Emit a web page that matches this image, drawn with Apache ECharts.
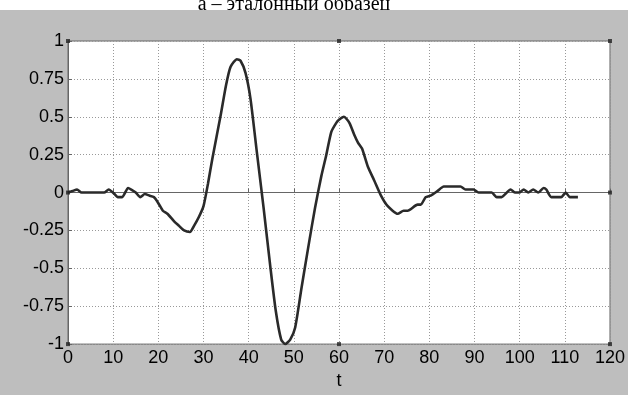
<!DOCTYPE html>
<html>
<head>
<meta charset="utf-8">
<script src="https://cdn.jsdelivr.net/npm/echarts@6/dist/echarts.min.js"></script>
<style>
  html, body { margin: 0; padding: 0; background: #fff; }
  #chart { width: 628px; height: 395px; }
</style>
</head>
<body>
<div id="chart"></div>
<script>
// signal: t and amplitude
var tValues = [0, 1, 2, 3, 8, 9, 10.3, 11, 12, 13.3, 14, 15, 16, 17, 18, 19, 20, 21, 22, 23.5,
    24.6, 25.7, 27, 27.9, 29, 30, 31, 32, 33.8, 35, 36, 37.4, 38.2, 39.3, 40.4, 41.8, 43.3, 44.8,
    46, 47.2, 48.1, 49.2, 50.3, 51.7, 53.2, 54.7, 56.1, 57.2, 58.3, 59.4, 60, 61.1, 62.3, 63.4,
    64.2, 65.1, 66.4, 67.8, 69.3, 70.8, 73, 74.3, 75.2, 77.4, 78.1, 79.2, 80.3, 81.8, 83.2, 86.9,
    88, 89.8, 90.9, 93.8, 94.9, 96, 98, 99, 99.9, 100.9, 101.9, 103, 104.1, 105.3, 105.9, 107,
    109.2, 110.2, 111.1, 112.9];
var signal = [0, 0.01, 0.02, 0, 0, 0.02, -0.01, -0.03, -0.03, 0.03, 0.02, 0, -0.03, -0.01, -0.02, -0.03, -0.07, -0.12, -0.14, -0.19,
    -0.22, -0.25, -0.26, -0.22, -0.16, -0.09, 0.06, 0.23, 0.51, 0.71, 0.83, 0.88, 0.87, 0.79, 0.62, 0.27, -0.1, -0.49,
    -0.78, -0.97, -1.0, -0.97, -0.89, -0.63, -0.36, -0.1, 0.11, 0.25, 0.4, 0.46, 0.48, 0.5, 0.46, 0.38,
    0.33, 0.29, 0.17, 0.08, -0.02, -0.09, -0.14, -0.12, -0.12, -0.08, -0.08, -0.03, -0.02, 0.01, 0.04, 0.04,
    0.02, 0.02, 0, 0, -0.03, -0.03, 0.02, 0, 0, 0.02, 0, 0.02, 0, 0.03, 0.02, -0.03,
    -0.03, 0, -0.03, -0.03];

// selection handles of the axes box
var handleX = [0, 60, 120, 0, 120, 0, 60, 120];
var handleY = [1, 1, 1, 0, 0, -1, -1, -1];

var titleText = 'а – эталонный образец';
var xName = 't';

var sans = 'Arial, "Liberation Sans", sans-serif';

var lineData = tValues.map(function (t, i) { return [t, signal[i]]; });
var handleData = handleX.map(function (x, i) { return [x, handleY[i]]; });

var chart = echarts.init(document.getElementById('chart'));

var option = {
    backgroundColor: '#bebebe',
    animation: false,
    graphic: [
        { type: 'rect', shape: { x: 0, y: 0, width: 628, height: 10 }, style: { fill: '#ffffff' }, z: 0 },
        {
            type: 'text', x: 294, y: 5, z: 0,
            style: {
                text: titleText, font: '20px "Liberation Serif", serif', fill: '#000',
                align: 'center', verticalAlign: 'middle'
            }
        },
        { type: 'rect', shape: { x: 0, y: 10, width: 628, height: 12 }, style: { fill: '#bebebe' }, z: 0 }
    ],
    grid: {
        left: 68, right: 14, top: 41, bottom: 50,
        show: true, backgroundColor: '#ffffff', borderColor: '#666', borderWidth: 1
    },
    xAxis: {
        type: 'value', min: 0, max: 120, interval: 10,
        name: xName, nameLocation: 'middle', nameGap: 26,
        nameTextStyle: { fontFamily: sans, fontSize: 18, color: '#000' },
        axisLine: { show: true, lineStyle: { color: '#666' } },
        axisTick: { show: true, inside: true, length: 4, lineStyle: { color: '#666' } },
        axisLabel: { fontFamily: sans, fontSize: 18, color: '#000', margin: 5 },
        splitLine: { show: true, lineStyle: { color: '#999', type: [1, 2], width: 1 } }
    },
    yAxis: {
        type: 'value', min: -1, max: 1, interval: 0.25,
        axisLine: { show: true, lineStyle: { color: '#666' } },
        axisTick: { show: true, inside: true, length: 4, lineStyle: { color: '#666' } },
        axisLabel: {
            fontFamily: sans, fontSize: 18, color: '#000', margin: 4,
            formatter: function (v) { return String(v); }
        },
        splitLine: { show: true, lineStyle: { color: '#999', type: [1, 2], width: 1 } }
    },
    series: [
        {
            type: 'line',
            data: lineData,
            showSymbol: false,
            smooth: 0.2,
            lineStyle: { color: '#2a2a2a', width: 2.6 },
            z: 3
        },
        {
            type: 'scatter',
            data: handleData,
            symbol: 'rect',
            symbolSize: 4,
            itemStyle: { color: '#222' },
            z: 4
        }
    ]
};

chart.setOption(option);
</script>
</body>
</html>
